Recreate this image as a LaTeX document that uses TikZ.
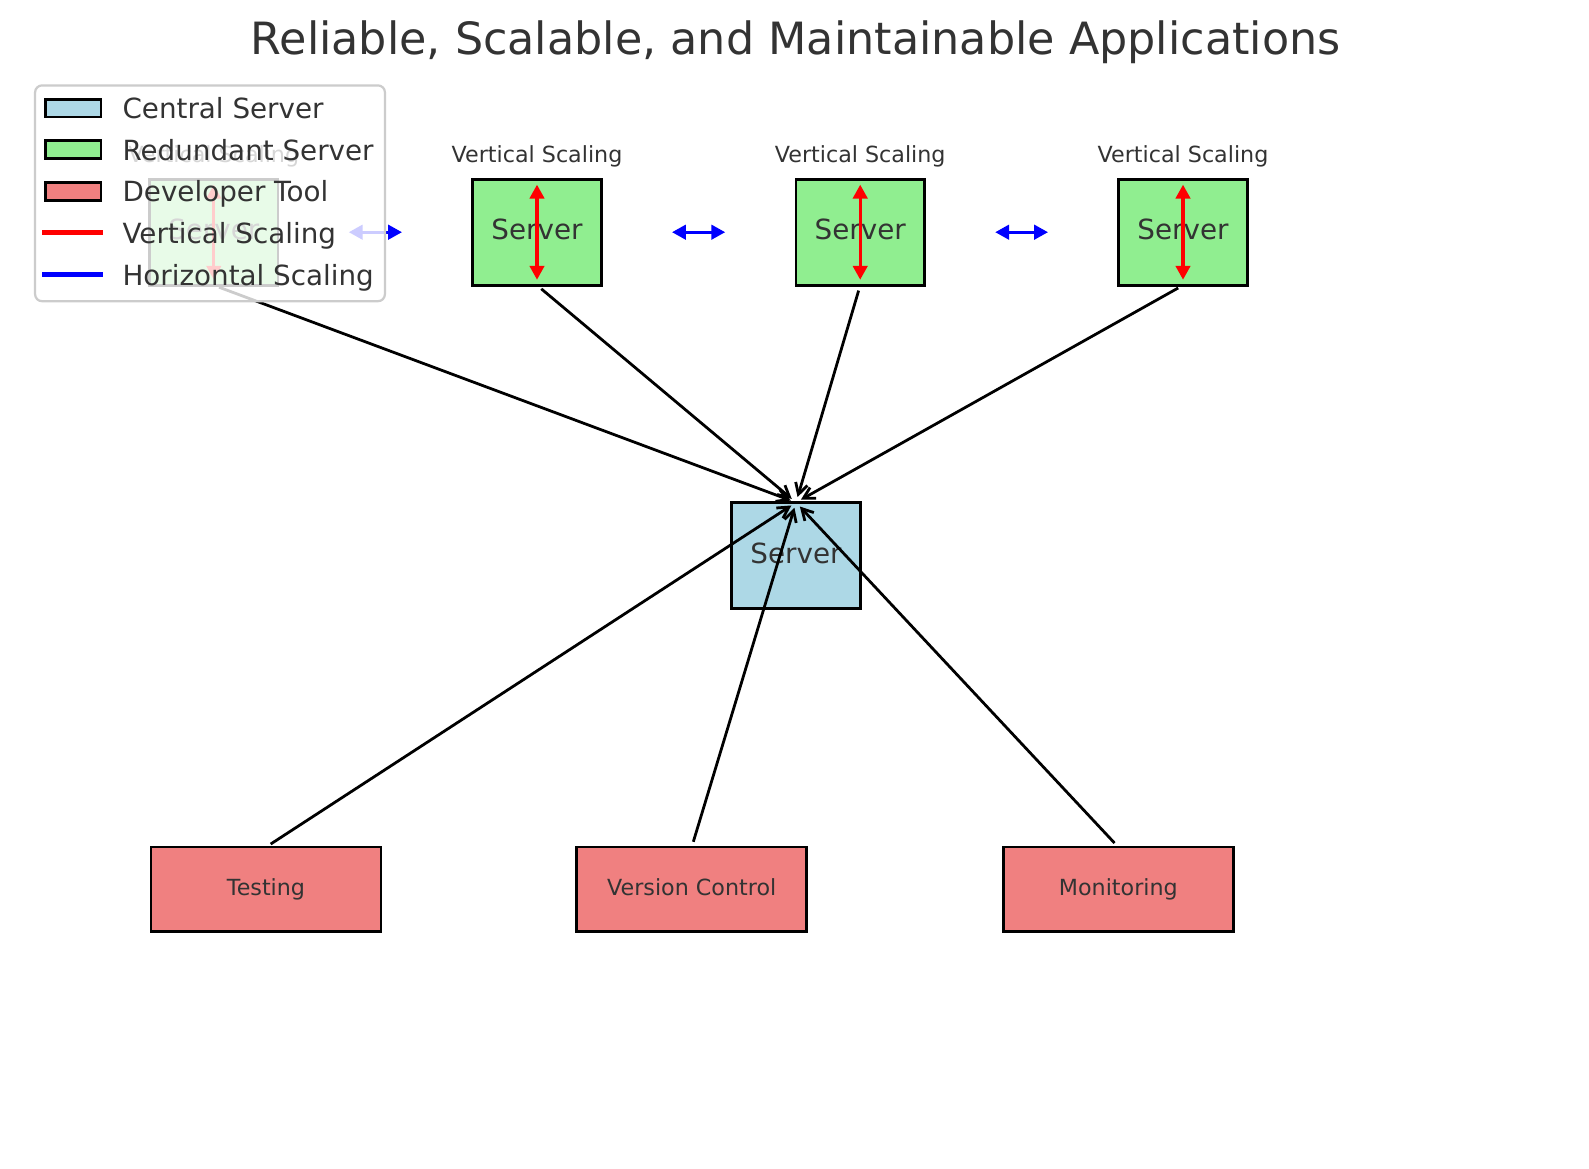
\documentclass[tikz,border=0pt]{standalone}
\usepackage{fontspec}
\setmainfont{DejaVu Sans}
\usetikzlibrary{arrows.meta,positioning}

\definecolor{inktext}{HTML}{333333}
\definecolor{centralblue}{HTML}{ADD8E6}
\definecolor{redundantgreen}{HTML}{90EE90}
\definecolor{toolcoral}{HTML}{F08080}

\begin{document}
\begin{tikzpicture}[x=0.36pt, y=-0.36pt,
  box/.style={draw=black, line width=1pt, inner sep=0pt, outer sep=0pt, text=inktext},
  server/.style={box, minimum width=46.2pt, minimum height=38.2pt,
    font=\fontsize{10}{12}\selectfont, text height=5.6pt, text depth=0pt},
  central/.style={server, fill=centralblue},
  redundant/.style={server, fill=redundantgreen},
  tool/.style={box, fill=toolcoral, minimum width=82.8pt, minimum height=30.4pt,
    font=\fontsize{8}{10}\selectfont, text height=6.2pt, text depth=1.4pt},
  vlabel/.style={anchor=base, inner sep=0pt, text=inktext, font=\fontsize{8}{10}\selectfont},
  link/.style={-{Straight Barb[length=4pt,width=4.4pt]}, line width=1pt,
    shorten <=2pt, shorten >=2pt},
  vscale/.style={{Triangle[length=5pt,width=5.2pt]}-{Triangle[length=5pt,width=5.2pt]},
    red, line width=1.1pt, shorten <=2pt, shorten >=2pt},
  hscale/.style={{Triangle[length=5pt,width=5.2pt]}-{Triangle[length=5pt,width=5.2pt]},
    blue, line width=1.1pt, shorten <=25.5pt, shorten >=25.5pt},
  swatch/.style={draw=black, line width=1pt, minimum width=19.9pt, minimum height=6.4pt,
    inner sep=0pt, outer sep=0pt},
  keytext/.style={anchor=base west, inner sep=0pt, text=inktext, font=\fontsize{10}{12}\selectfont}]

\fill [white] (0,0) rectangle (1589,1168);
\useasboundingbox (0,0) rectangle (1589,1168);

\node [anchor=base, inner sep=0pt, text=inktext, font=\fontsize{16}{19}\selectfont] (title)
  at (795.6,54) {Reliable, Scalable, and Maintainable Applications};

\node [redundant] (srvA) at (213.8,232.2) {Server};
\node [redundant] (srvB) at (537,232.2) {Server};
\node [redundant] (srvC) at (860.2,232.2) {Server};
\node [redundant] (srvD) at (1183,232.2) {Server};
\node [central] (hub) at (796,555.5) {Server};

\node [vlabel] (vlabA) at (213.8,162.7) {Vertical Scaling};
\node [vlabel] (vlabB) at (537,162.7) {Vertical Scaling};
\node [vlabel] (vlabC) at (860.2,162.7) {Vertical Scaling};
\node [vlabel] (vlabD) at (1183,162.7) {Vertical Scaling};

\node [tool] (testing) at (266,889.3) {Testing};
\node [tool] (version) at (691.7,889.3) {Version Control};
\node [tool] (monitoring) at (1118.3,889.3) {Monitoring};

\draw [vscale] (srvA.north) -- (srvA.south);
\draw [vscale] (srvB.north) -- (srvB.south);
\draw [vscale] (srvC.north) -- (srvC.south);
\draw [vscale] (srvD.north) -- (srvD.south);

\draw [hscale] (srvA.east) -- (srvB.west);
\draw [hscale] (srvB.east) -- (srvC.west);
\draw [hscale] (srvC.east) -- (srvD.west);

\draw [link] (srvA.south) -- (hub.north);
\draw [link] (srvB.south) -- (hub.north);
\draw [link] (srvC.south) -- (hub.north);
\draw [link] (srvD.south) -- (hub.north);
\draw [link] (testing.north) -- (hub.north);
\draw [link] (version.north) -- (hub.north);
\draw [link] (monitoring.north) -- (hub.north);

% legend
\draw [draw=black!20, line width=0.8pt, fill=white, fill opacity=0.8, rounded corners=2.5pt]
  (35.1,85.4) rectangle (384.9,301.2);
\node [swatch, fill=centralblue] (keyCentral) at (73.3,108) {};
\node [swatch, fill=redundantgreen] (keyRedundant) at (73.3,149.7) {};
\node [swatch, fill=toolcoral] (keyTool) at (73.3,191.3) {};
\draw [red, line width=2pt] (42,232.7) -- (103.3,232.7);
\draw [blue, line width=2pt] (42,274.7) -- (103.3,274.7);
\node [keytext] (txtCentral) at (122,118.3) {Central Server};
\node [keytext] (txtRedundant) at (122,160) {Redundant Server};
\node [keytext] (txtTool) at (122,201.7) {Developer Tool};
\node [keytext] (txtVertical) at (122,243.3) {Vertical Scaling};
\node [keytext] (txtHorizontal) at (122,285) {Horizontal Scaling};

\end{tikzpicture}
\end{document}
